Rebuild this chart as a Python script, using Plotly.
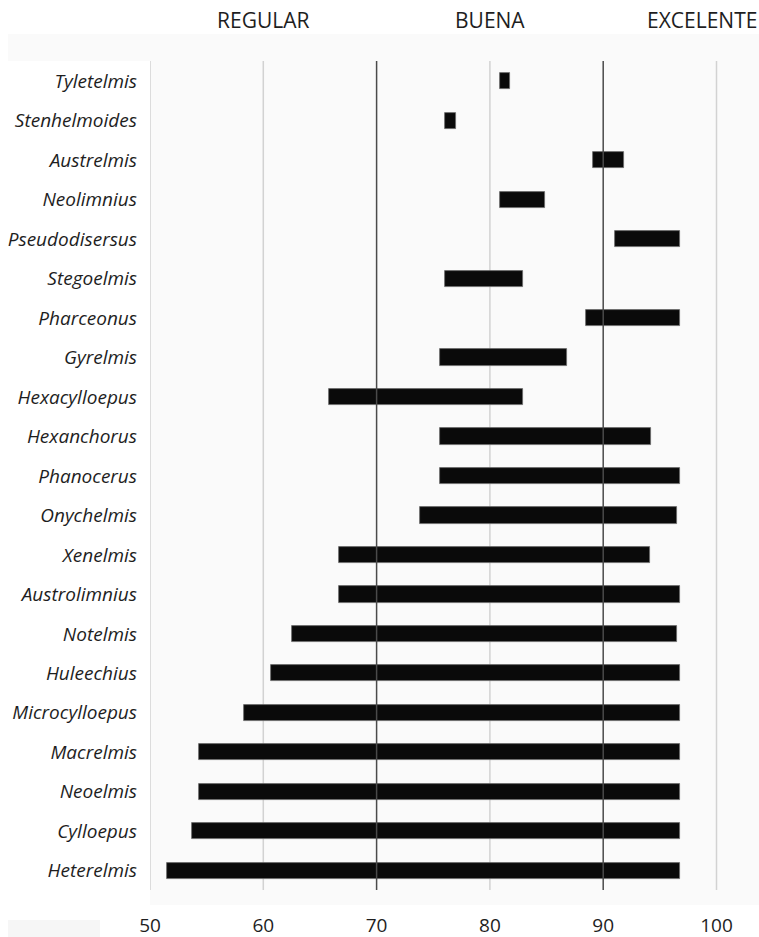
import plotly.graph_objects as go

genera = ["Heterelmis", "Cylloepus", "Neoelmis", "Macrelmis", "Microcylloepus",
          "Huleechius", "Notelmis", "Austrolimnius", "Xenelmis", "Onychelmis",
          "Phanocerus", "Hexanchorus", "Hexacylloepus", "Gyrelmis", "Pharceonus",
          "Stegoelmis", "Pseudodisersus", "Neolimnius", "Austrelmis",
          "Stenhelmoides", "Tyletelmis"]
low = [51.5, 53.7, 54.3, 54.3, 58.3,
       60.7, 62.5, 66.7, 66.7, 73.8,
       75.6, 75.6, 65.8, 75.6, 88.5,
       76.0, 91.0, 80.9, 89.1,
       76.0, 80.9]
high = [96.75, 96.75, 96.75, 96.75, 96.75,
        96.75, 96.5, 96.75, 94.1, 96.5,
        96.75, 94.2, 82.9, 86.8, 96.75,
        82.9, 96.75, 84.9, 91.8,
        77.0, 81.8]
x_ticks = [50, 60, 70, 80, 90, 100]
light_lines = [50, 60, 80, 100]
dark_lines = [70, 90]
headers = ["REGULAR", "BUENA", "EXCELENTE"]
header_x = [60, 80, 100]

W, H = 759, 937
fig = go.Figure()
fig.add_trace(go.Bar(
    y=genera,
    x=[h - l for l, h in zip(low, high)],
    base=low,
    orientation="h",
    width=0.41,
    marker=dict(color="#0a0a0a", line=dict(color="#6a6a6a", width=0.8)),
    showlegend=False,
    hoverinfo="skip",
))

# plot area pixel geometry
top_px, bot_px = 34, 905
ph = bot_px - top_px
pw = W - 150
g0 = (bot_px - 890) / ph
g1 = (bot_px - 61) / ph

shapes = []
# light band above the grid, spanning into the label area
shapes.append(dict(type="rect", xref="paper", yref="paper",
                   x0=(8 - 150) / pw, x1=0, y0=g1, y1=1.0,
                   fillcolor="#fafafa", line=dict(width=0), layer="below"))
for v in light_lines:
    shapes.append(dict(type="line", xref="x", yref="paper", x0=v, x1=v, y0=g0, y1=g1,
                       line=dict(color="#d2d2d2", width=1.5), layer="below"))
for v in dark_lines:
    shapes.append(dict(type="line", xref="x", yref="paper", x0=v, x1=v, y0=g0, y1=g1,
                       line=dict(color="#4a4a4a", width=1.5), layer="above"))
# small light box bottom-left
shapes.append(dict(type="rect", xref="paper", yref="paper",
                   x0=(8 - 150) / pw, x1=(100 - 150) / pw,
                   y0=-(937 - bot_px) / ph, y1=-(920 - bot_px) / ph,
                   fillcolor="#f6f6f6", line=dict(width=0), layer="below"))

hfont = dict(family="Open Sans", size=21, color="#1e1e1e")
annotations = []
for t, xv in zip(headers, header_x):
    if t == "EXCELENTE":
        annotations.append(dict(text=t, xref="paper", yref="paper", x=1.0, y=(bot_px - 20) / ph,
                                xanchor="right", yanchor="middle", showarrow=False, font=hfont))
    else:
        annotations.append(dict(text=t, xref="x", yref="paper", x=xv, y=(bot_px - 20) / ph,
                                xanchor="center", yanchor="middle", showarrow=False, font=hfont))

x_range = [50, 50 + pw / 11.33]
fig.update_layout(
    width=W, height=H,
    margin=dict(l=150, r=0, t=top_px, b=H - bot_px, pad=0),
    paper_bgcolor="white",
    plot_bgcolor="#fafafa",
    shapes=shapes,
    annotations=annotations,
    bargap=0,
    xaxis=dict(range=x_range, tickvals=x_ticks, showgrid=False, zeroline=False,
               showline=False, ticks="", ticklabelstandoff=7,
               tickfont=dict(family="Open Sans", size=19, color="#1e1e1e")),
    yaxis=dict(type="category", categoryorder="array", categoryarray=genera,
               range=[-0.869, 21.198], showgrid=False, zeroline=False, showline=False,
               ticks="", ticklabelstandoff=12,
               tickfont=dict(family="Open Sans", size=19, color="#1e1e1e", style="italic")),
)
fig.write_html("out.html", config={"displayModeBar": False})

with open("out.html", "r", encoding="utf-8") as f:
    html = f.read()
html = html.replace("<head>", "<head><style>html,body{margin:0;padding:0;overflow:hidden;}</style>", 1)
with open("out.html", "w", encoding="utf-8") as f:
    f.write(html)
